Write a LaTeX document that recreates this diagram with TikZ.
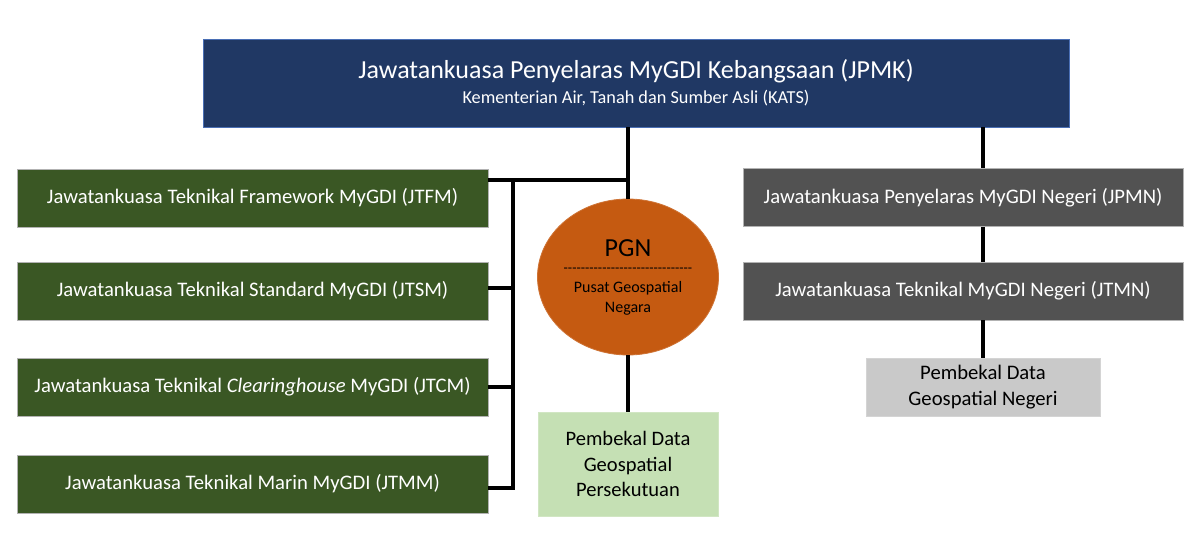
\documentclass[tikz,border=0pt]{standalone}
\usepackage{fontspec}
\setmainfont{Carlito}
\usetikzlibrary{shapes.geometric}
\definecolor{navy}{HTML}{203864}
\definecolor{navyb}{HTML}{4A6FB5}
\definecolor{dgreen}{HTML}{3A5724}
\definecolor{dgrey}{HTML}{525252}
\definecolor{orng}{HTML}{C55A11}
\definecolor{lgreen}{HTML}{C5E0B4}
\definecolor{lgrey}{HTML}{C9C9C9}
\newcommand\dashrow{-{}-{}-{}-{}-{}-{}-{}-{}-{}-{}-{}-{}-{}-{}-{}-{}-{}-{}-{}-{}-{}-{}-{}-{}-{}-{}-{}-{}-{}-}
\tikzset{
  box/.style={rectangle, inner sep=0pt, align=center, line width=0.6pt},
  greenbox/.style={box, fill=dgreen, draw=gray!60, text=white, minimum width=471*0.75pt, minimum height=58*0.75pt, font=\fontsize{15.5}{18}\selectfont},
  greybox/.style={box, fill=dgrey, draw=gray!60, text=white, minimum width=440*0.75pt, minimum height=58*0.75pt, font=\fontsize{15.5}{18}\selectfont},
  conn/.style={line width=3.6pt, black},
}
\begin{document}
\begin{tikzpicture}[x=0.75pt, y=-0.75pt]
\useasboundingbox (0,0) rectangle (1200,549);
% top
\node[box, fill=navy, draw=navyb, text=white, minimum width=866*0.75pt, minimum height=88*0.75pt] (jpmk) at (636,83)
  {\fontsize{19.5}{22}\selectfont Jawatankuasa Penyelaras MyGDI Kebangsaan (JPMK)\\[4pt]\fontsize{13.7}{15}\selectfont Kementerian Air, Tanah dan Sumber Asli (KATS)};
% left green
\node[greenbox] (jtfm) at (252.5,198) {Jawatankuasa Teknikal Framework MyGDI (JTFM)};
\node[greenbox] (jtsm) at (252.5,291) {Jawatankuasa Teknikal Standard MyGDI (JTSM)};
\node[greenbox] (jtcm) at (252.5,387) {Jawatankuasa Teknikal \textit{Clearinghouse} MyGDI (JTCM)};
\node[greenbox] (jtmm) at (252.5,484) {Jawatankuasa Teknikal Marin MyGDI (JTMM)};
% PGN
\node[ellipse, fill=orng, draw=orng!85!white, line width=0.6pt, minimum width=181*0.75pt, minimum height=156*0.75pt, inner sep=-12pt, align=center] (pgn) at (628,277)
  {\fontsize{19.5}{20}\selectfont PGN\\[0pt]\fontsize{10.5}{10}\selectfont\dashrow\\[3pt]\fontsize{12}{15}\selectfont Pusat Geospatial\\[3pt]\fontsize{12}{15}\selectfont Negara};
\node[box, fill=lgreen, draw=lgreen!80!white, minimum width=180*0.75pt, minimum height=104*0.75pt, font=\fontsize{15.4}{19.2}\selectfont] (pdgp) at (628,464)
  {Pembekal Data\\Geospatial\\Persekutuan};
% right
\node[greybox] (jpmn) at (963,197.5) {Jawatankuasa Penyelaras MyGDI Negeri (JPMN)};
\node[greybox] (jtmn) at (963,291) {Jawatankuasa Teknikal MyGDI Negeri (JTMN)};
\node[box, fill=lgrey, draw=lgrey!80!white, minimum width=234*0.75pt, minimum height=58*0.75pt, font=\fontsize{15.5}{19}\selectfont] (pdgn) at (983,387)
  {Pembekal Data\\Geospatial Negeri};
% connectors
\coordinate (j1) at (628,180);
\coordinate (bt) at (513,180);
\coordinate (bb) at (513,488);
\coordinate (b2) at (513,288);
\draw[conn] (jpmk.south -| pgn) -- (pgn.north);
\draw[conn] (jtfm.east |- j1) -- (j1);
\draw[conn, line cap=rect] (bt) -- (bb);
\draw[conn] (jtsm.east |- b2) -- (b2);
\draw[conn] (jtcm.east) -- (bt |- jtcm.east);
\draw[conn] (jtmm.east |- bb) -- (bb);
\draw[conn] (pgn.south) -- (pdgp.north);
\draw[conn] (jpmk.south -| pdgn) -- (jpmn.north -| pdgn);
\draw[conn] (jpmn.south -| pdgn) -- (jtmn.north -| pdgn);
\draw[conn] (jtmn.south -| pdgn) -- (pdgn.north);
\end{tikzpicture}
\end{document}
